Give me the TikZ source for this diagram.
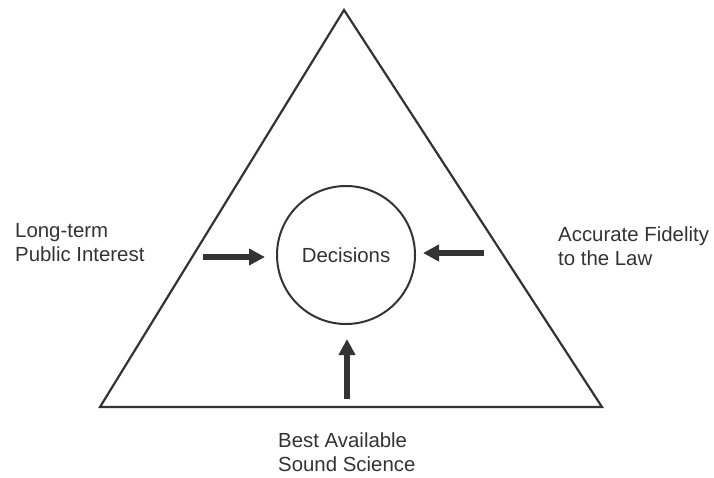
\documentclass[tikz,border=0pt]{standalone}
\usepackage{fontspec}
\setmainfont{Liberation Sans}
\usetikzlibrary{arrows.meta}
\definecolor{ink}{HTML}{333333}
\definecolor{txt}{HTML}{333333}
\begin{document}
\begin{tikzpicture}[x=1pt,y=-1pt,
  outline/.style={draw=ink, line width=2.2pt, line join=miter},
  push/.style={draw=ink, line width=5.5pt,
    -{Triangle[length=16pt,width=16pt]}},
  label/.style={font=\fontsize{20.4}{23.5}\selectfont, text=txt,
    align=left, inner sep=0pt, anchor=base west}]
  \useasboundingbox (0,0) rectangle (714,477);
  % triangle frame
  \coordinate (apex) at (344,10);
  \coordinate (bl) at (100,407);
  \coordinate (br) at (602,407);
  \draw[outline] (apex) -- (bl) -- (br) -- cycle;
  % central circle
  \node[draw=ink, line width=2pt, circle, minimum size=138pt, inner sep=0pt,
    font=\fontsize{20.4}{23.5}\selectfont, text=txt] (dec) at (346,255) {Decisions};
  % side labels (anchored on the baseline of their last line)
  \node[label] (left) at (15,261) {Long-term\\Public Interest};
  \node[label] (right) at (558,265) {Accurate Fidelity\\to the Law};
  \node[label] (bottom) at (278,471) {Best Available\\Sound Science};
  % arrows pointing at the circle
  \coordinate (la) at (203,257);
  \coordinate (lb) at (265,257);
  \coordinate (ra) at (484,253);
  \coordinate (rb) at (423,253);
  \coordinate (ba) at (347,399);
  \coordinate (bb) at (347,339);
  \draw[push] (la) -- (lb);
  \draw[push] (ra) -- (rb);
  \draw[push] (ba) -- (bb);
\end{tikzpicture}
\end{document}
